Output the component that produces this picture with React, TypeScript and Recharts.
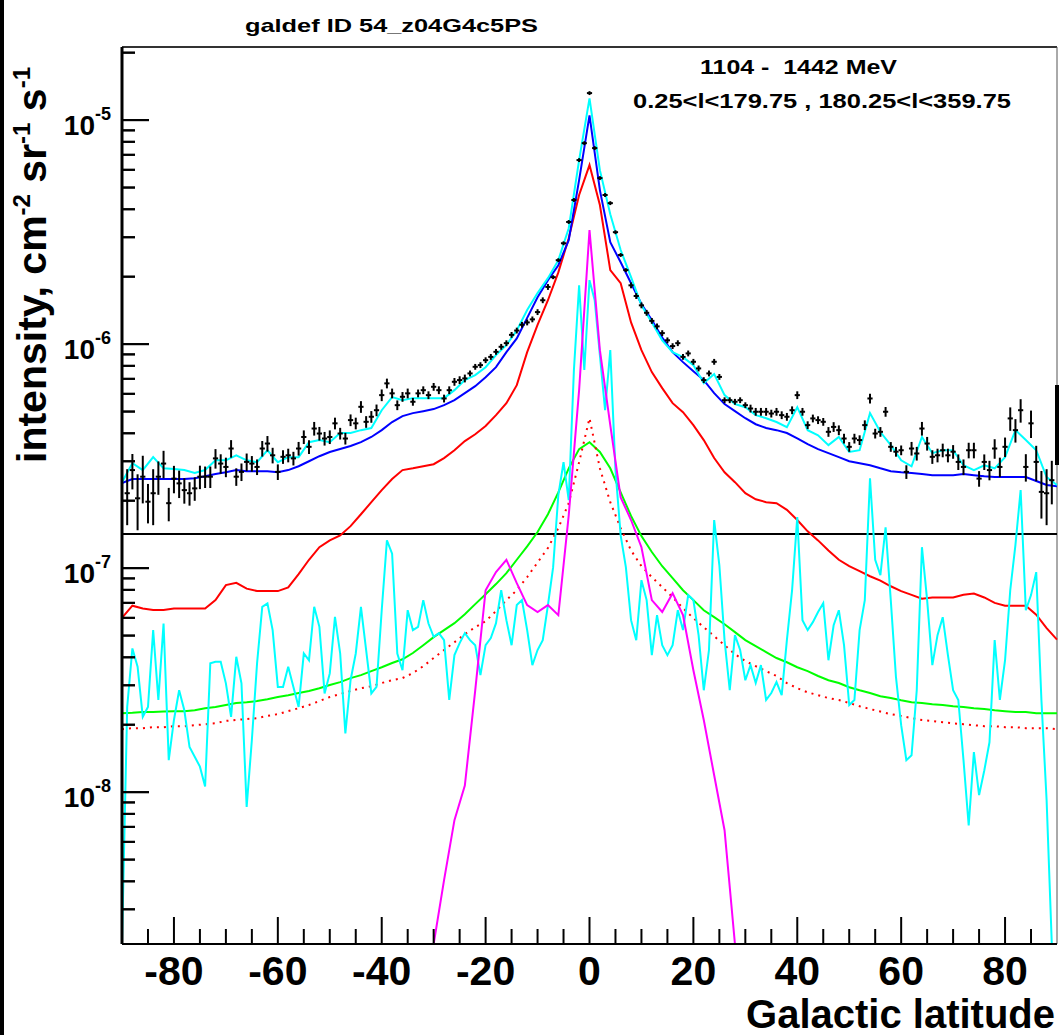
import React from "react";
import { ComposedChart, Line, Scatter, ErrorBar, XAxis, YAxis, ReferenceLine } from "recharts";

const W = 1059;
const H = 1035;
const FONT = "'Liberation Sans', Arial, Helvetica, sans-serif";

// plot frame (set by the chart margins below)
const LEFT = 122;
const RIGHT = 1057;
const TOP = 47;
const BOTTOM = 944;

// intensities are stored in units of 1e-7 cm^-2 sr^-1 s^-1
const UNIT = 1e-7;
const Y_MIN = 2.1e-9;
const Y_MAX = 2.12e-5;
const splitLevel = 1.42e-7;

// bin centres (galactic latitude, deg)
const lat2 = Array.from({ length: 91 }, (_, i) => -90 + 2 * i);
const lat1 = Array.from({ length: 181 }, (_, i) => -90 + i);
const latData = Array.from({ length: 179 }, (_, i) => -89 + i);

// total model (blue)
const blue = [
  2.40, 2.50, 2.50, 2.50, 2.50, 2.50, 2.50, 2.52, 2.57, 2.63,
  2.68, 2.74, 2.71, 2.71, 2.71, 2.68, 2.74, 2.85, 3.00, 3.16,
  3.30, 3.40, 3.51, 3.65, 3.85, 4.13, 4.49, 4.77, 4.92, 5.02,
  5.13, 5.34, 5.62, 6.04, 6.49, 7.12, 7.89, 9.21, 10.6, 13.1,
  16.2, 19.3, 22.5, 29.1, 54.0, 105, 48.7, 28.5, 23.2, 18.7,
  15.1, 12.8, 10.7, 9.21, 8.31, 7.57, 6.91, 6.04, 5.40, 5.02,
  4.67, 4.39, 4.22, 4.13, 4.01, 3.80, 3.58, 3.40, 3.26, 3.13,
  3.00, 2.94, 2.88, 2.79, 2.71, 2.68, 2.66, 2.63, 2.60, 2.60,
  2.60, 2.63, 2.60, 2.57, 2.55, 2.55, 2.55, 2.55, 2.45, 2.35,
  2.32,
];

// pi0 (red solid)
const red = [
  0.60, 0.68, 0.66, 0.65, 0.65, 0.66, 0.66, 0.66, 0.66, 0.72,
  0.84, 0.86, 0.81, 0.79, 0.79, 0.79, 0.82, 0.94, 1.09, 1.24,
  1.33, 1.40, 1.54, 1.74, 1.97, 2.23, 2.50, 2.74, 2.79, 2.85,
  2.91, 3.10, 3.36, 3.69, 3.96, 4.31, 4.82, 5.45, 6.56, 9.21,
  12.2, 15.7, 20.9, 29.7, 46.3, 63.0, 41.8, 21.4, 18.7, 12.5,
  9.40, 7.50, 6.36, 5.45, 4.97, 4.35, 3.73, 3.10, 2.68, 2.42,
  2.16, 2.03, 1.97, 1.95, 1.82, 1.64, 1.46, 1.33, 1.20, 1.09,
  1.02, 0.97, 0.92, 0.88, 0.83, 0.79, 0.76, 0.73, 0.74, 0.74,
  0.74, 0.76, 0.77, 0.74, 0.70, 0.68, 0.68, 0.68, 0.62, 0.54,
  0.48,
];

// inverse Compton (green)
const green = [
  0.225, 0.226, 0.228, 0.228, 0.229, 0.230, 0.230, 0.232, 0.237, 0.240,
  0.245, 0.250, 0.252, 0.255, 0.260, 0.266, 0.271, 0.277, 0.283, 0.291,
  0.301, 0.310, 0.323, 0.333, 0.347, 0.361, 0.377, 0.392, 0.418, 0.453,
  0.492, 0.529, 0.568, 0.623, 0.691, 0.765, 0.849, 0.950, 1.09, 1.25,
  1.45, 1.74, 2.18, 2.79, 3.40, 3.65, 3.30, 2.79, 2.18, 1.71,
  1.39, 1.18, 1.02, 0.902, 0.797, 0.720, 0.649, 0.604, 0.562, 0.518,
  0.477, 0.449, 0.422, 0.397, 0.380, 0.361, 0.347, 0.330, 0.316, 0.307,
  0.294, 0.285, 0.277, 0.268, 0.263, 0.257, 0.252, 0.250, 0.247, 0.245,
  0.242, 0.240, 0.237, 0.235, 0.232, 0.230, 0.228, 0.228, 0.225, 0.225,
  0.225,
];

// bremsstrahlung (red dotted)
const dotted = [
  0.191, 0.193, 0.193, 0.195, 0.195, 0.197, 0.197, 0.199, 0.201, 0.203,
  0.208, 0.210, 0.212, 0.214, 0.219, 0.223, 0.230, 0.237, 0.245, 0.255,
  0.266, 0.274, 0.283, 0.291, 0.297, 0.307, 0.316, 0.323, 0.340, 0.365,
  0.397, 0.431, 0.467, 0.507, 0.545, 0.580, 0.643, 0.720, 0.797, 0.912,
  1.06, 1.23, 1.51, 1.95, 2.97, 4.67, 2.79, 1.97, 1.51, 1.20,
  1.02, 0.912, 0.823, 0.742, 0.663, 0.598, 0.545, 0.497, 0.453, 0.413,
  0.385, 0.365, 0.347, 0.330, 0.307, 0.291, 0.279, 0.271, 0.263, 0.258,
  0.250, 0.242, 0.235, 0.229, 0.223, 0.219, 0.214, 0.210, 0.208, 0.205,
  0.203, 0.201, 0.199, 0.197, 0.197, 0.195, 0.195, 0.193, 0.193, 0.193,
  0.191,
];

// sources (magenta); 0.021 sits on the lower edge of the frame
const magenta = [
  0.021, 0.021, 0.021, 0.021, 0.021, 0.021, 0.021, 0.021, 0.021, 0.021,
  0.021, 0.021, 0.021, 0.021, 0.021, 0.021, 0.021, 0.021, 0.021, 0.021,
  0.021, 0.021, 0.021, 0.021, 0.021, 0.021, 0.021, 0.021, 0.021, 0.021,
  0.021, 0.0405, 0.075, 0.107, 0.285, 0.797, 0.960, 1.09, 0.857, 0.684,
  0.637, 0.684, 0.617, 1.72, 6.23, 32.3, 9.40, 4.35, 2.07, 1.64,
  1.24, 0.720, 0.637, 0.773, 0.617, 0.350, 0.210, 0.119, 0.0676, 0.021,
  0.021, 0.021, 0.021, 0.021, 0.021, 0.021, 0.021, 0.021, 0.021, 0.021,
  0.021, 0.021, 0.021, 0.021, 0.021, 0.021, 0.021, 0.021, 0.021, 0.021,
  0.021, 0.021, 0.021, 0.021, 0.021, 0.021, 0.021, 0.021, 0.021, 0.021,
  0.021,
];

// total incl. sources (cyan, upper)
const cyanTotal = [
  2.42, 2.94, 2.74, 3.13, 2.79, 2.77, 2.74, 2.66, 2.74, 3.03,
  3.03, 3.19, 3.03, 2.97, 3.36, 2.97, 3.13, 3.13, 3.65, 3.73,
  3.65, 4.01, 4.01, 4.13, 4.22, 5.07, 5.80, 5.62, 5.74, 5.74,
  5.74, 5.74, 6.23, 6.91, 7.27, 7.89, 8.93, 9.90, 11.5, 14.2,
  16.9, 19.7, 23.7, 32.9, 66.3, 125, 59.8, 38.0, 26.3, 19.9,
  14.9, 12.5, 10.4, 9.21, 8.75, 8.06, 6.70, 7.35, 5.92, 5.40,
  5.23, 4.82, 4.67, 4.49, 4.26, 5.23, 4.13, 3.92, 3.54, 3.85,
  3.30, 3.36, 4.92, 4.05, 3.54, 3.03, 2.85, 3.85, 3.26, 3.36,
  3.36, 2.88, 2.74, 2.88, 2.79, 3.13, 4.13, 3.73, 3.36, 2.55,
  2.35,
];

// residual (cyan, lower), 1 deg bins
const residual = [
  0.021, 0.240, 0.438, 0.363, 0.217, 0.240, 0.529, 0.258, 0.566, 0.139,
  0.210, 0.285, 0.232, 0.159, 0.144, 0.130, 0.106, 0.376, 0.382, 0.382,
  0.306, 0.217, 0.402, 0.306, 0.086, 0.171, 0.376, 0.672, 0.696, 0.529,
  0.295, 0.295, 0.363, 0.295, 0.240, 0.416, 0.388, 0.672, 0.547, 0.276,
  0.339, 0.606, 0.416, 0.183, 0.316, 0.416, 0.672, 0.431, 0.276, 0.295,
  0.649, 1.33, 1.16, 0.416, 0.350, 0.649, 0.529, 0.547, 0.720, 0.566,
  0.494, 0.513, 0.477, 0.258, 0.409, 0.463, 0.513, 0.477, 0.453, 0.333,
  0.453, 0.487, 0.568, 0.797, 0.586, 0.453, 0.684, 0.720, 0.529, 0.369,
  0.431, 0.477, 0.684, 1.01, 2.12, 2.97, 2.01, 7.66, 18.3, 7.66,
  19.3, 15.7, 8.93, 5.07, 9.40, 2.74, 1.40, 1.01, 0.586, 0.477,
  0.884, 0.720, 0.409, 0.617, 0.453, 0.409, 0.453, 0.649, 0.529, 0.758,
  0.720, 0.502, 0.285, 0.431, 1.64, 1.03, 0.477, 0.285, 0.502, 0.431,
  0.316, 0.369, 0.307, 0.369, 0.258, 0.277, 0.310, 0.271, 0.477, 0.797,
  1.69, 0.586, 0.529, 0.574, 0.637, 0.698, 0.388, 0.556, 0.649, 0.453,
  0.245, 0.258, 0.529, 0.720, 2.52, 1.09, 0.930, 1.52, 0.720, 0.326,
  0.199, 0.139, 0.146, 0.285, 1.24, 0.720, 0.369, 0.502, 0.604, 0.409,
  0.285, 0.258, 0.139, 0.071, 0.151, 0.097, 0.125, 0.167, 0.477, 0.258,
  0.388, 0.797, 1.27, 2.23, 0.649, 0.758, 0.960, 0.258, 0.092, 0.021,
  0.021,
];

// measured intensity, 1 deg bins from -89 to 89
const measured = [
  2.16, 2.74, 2.05, 2.56, 1.98, 2.16, 2.56, 2.93, 1.95, 2.51,
  2.39, 2.23, 2.16, 2.27, 2.56, 2.56, 2.56, 3.09, 2.93, 2.83,
  3.42, 2.56, 2.69, 2.98, 2.93, 2.83, 3.42, 3.60, 3.19, 2.69,
  3.14, 3.19, 3.09, 3.42, 3.85, 3.48, 4.20, 3.99, 3.79, 3.85,
  4.43, 3.99, 3.79, 4.58, 4.43, 5.25, 4.50, 4.74, 5.07, 5.92,
  6.68, 6.03, 5.34, 5.82, 6.03, 5.53, 6.03, 6.23, 5.92, 6.45,
  6.23, 5.72, 6.23, 6.79, 6.91, 7.03, 7.40, 7.92, 8.06, 8.48,
  8.77, 9.24, 9.73, 10.1, 11.0, 11.5, 12.2, 12.5, 12.9, 13.9,
  15.7, 18.0, 19.9, 23.7, 28.2, 35.1, 44.0, 66.3, 78.9, 132,
  75.0, 55.1, 46.3, 42.6, 31.6, 25.0, 21.4, 18.3, 16.4, 14.9,
  13.8, 12.7, 12.0, 11.2, 10.4, 9.80, 10.1, 8.77, 9.09, 8.34,
  7.79, 6.91, 7.40, 8.34, 7.14, 5.62, 5.62, 5.53, 5.62, 5.34,
  5.16, 4.99, 4.99, 4.99, 4.90, 4.99, 4.82, 4.74, 5.07, 5.92,
  4.99, 4.35, 4.66, 4.58, 4.50, 4.06, 4.27, 4.13, 3.79, 3.48,
  3.79, 3.73, 4.35, 5.72, 3.99, 4.06, 4.99, 3.48, 3.31, 3.36,
  2.69, 3.42, 3.25, 4.20, 3.60, 3.14, 3.19, 3.36, 3.19, 3.31,
  2.98, 2.83, 3.36, 3.36, 2.51, 2.98, 2.74, 3.42, 2.83, 3.48,
  4.66, 4.13, 5.07, 2.83, 4.43, 2.98, 2.19, 2.16, 2.47,
];

// relative error of the measured points, percent
const measuredErrPct = [
  28, 18, 28, 24, 20, 28, 17, 14, 17, 14,
  14, 13, 12, 12, 12, 11, 11, 10, 10, 10,
  9, 9, 9, 9, 8, 8, 8, 8, 8, 8,
  7, 7, 7, 7, 7, 7, 7, 7, 7, 7,
  6, 6, 6, 6, 6, 6, 6, 6, 6, 6,
  5, 5, 5, 5, 5, 4, 4, 4, 4, 4,
  4, 4, 4, 4, 4, 4, 3, 3, 3, 3,
  3, 3, 3, 3, 3, 3, 3, 3, 3, 3,
  3, 3, 2, 2, 2, 2, 2, 2, 2, 2,
  2, 2, 2, 2, 2, 2, 2, 3, 3, 3,
  3, 3, 3, 3, 3, 3, 3, 3, 3, 3,
  3, 3, 3, 3, 3, 3, 3, 3, 3, 3,
  4, 4, 4, 4, 4, 4, 4, 4, 4, 4,
  4, 4, 4, 4, 4, 5, 5, 5, 5, 5,
  5, 5, 5, 5, 5, 5, 5, 5, 5, 5,
  7, 7, 7, 7, 7, 7, 7, 7, 7, 7,
  8, 8, 8, 8, 8, 8, 10, 10, 10, 10,
  12, 12, 12, 14, 14, 18, 24, 28, 22,
];

// axis ticks
const xTicks = [
  -85, -80, -75, -70, -65, -60, -55, -50, -45, -40, -35, -30, -25, -20, -15, -10, -5, 0,
  5, 10, 15, 20, 25, 30, 35, 40, 45, 50, 55, 60, 65, 70, 75, 80, 85,
];
const xLabelled = [-80, -60, -40, -20, 0, 20, 40, 60, 80];
const yDecades = [1e-8, 1e-7, 1e-6, 1e-5];
const yExponents = ["-8", "-7", "-6", "-5"];
const yMultipliers = [1, 2, 3, 4, 5, 6, 7, 8, 9];
const yTicks = [1e-9, 1e-8, 1e-7, 1e-6, 1e-5]
  .flatMap((d) => yMultipliers.map((m) => m * d))
  .filter((v) => v >= Y_MIN && v <= Y_MAX);

const smoothRows = lat2.map((b, i) => ({
  b,
  blue: blue[i] * UNIT,
  red: red[i] * UNIT,
  green: green[i] * UNIT,
  dotted: dotted[i] * UNIT,
  magenta: magenta[i] * UNIT,
  cyan: cyanTotal[i] * UNIT,
}));

const residualRows = lat1.map((b, i) => ({ b, resid: residual[i] * UNIT }));

const measuredRows = latData.map((b, i) => ({
  b,
  v: measured[i] * UNIT,
  err: (measured[i] * measuredErrPct[i] * UNIT) / 100,
}));

// y-axis tick marks, anchored on the left frame edge and drawn inward
const yTickRows = yTicks.map((t) => ({ b: -90, t, major: yDecades.includes(t) }));

const XTick = (props: any) => {
  const { x, y, payload } = props;
  const major = xLabelled.includes(payload.value);
  return (
    <g>
      <line x1={x} x2={x} y1={y} y2={y - (major ? 27 : 15)} stroke="#000" strokeWidth={2} />
      {major && (
        <text x={x} y={y + 41} textAnchor="middle" fontSize={41} fontWeight="bold" fontFamily={FONT} fill="#000">
          {payload.value}
        </text>
      )}
    </g>
  );
};

const YTick = (props: any) => {
  const { x, y, payload } = props;
  const i = yDecades.indexOf(payload.value);
  const major = i >= 0;
  return (
    <g>
      <line x1={x} x2={x + (major ? 27 : 13)} y1={y} y2={y} stroke="#000" strokeWidth={2} />
      {major && (
        <text x={x - 11} y={y + 15} textAnchor="end" fontSize={28} fontWeight="bold" fontFamily={FONT} fill="#000">
          10
          <tspan dy={-15} fontSize={18}>
            {yExponents[i]}
          </tspan>
        </text>
      )}
    </g>
  );
};

const TickMark = (props: any) => {
  const { cx, cy, payload } = props;
  const len = payload && payload.major ? 27 : 13;
  return <line x1={cx} x2={cx + len} y1={cy} y2={cy} stroke="#000" strokeWidth={2} />;
};

const Cross = (props: any) => {
  const { cx, cy } = props;
  return <line x1={cx - 2.6} x2={cx + 2.6} y1={cy} y2={cy} stroke="#000" strokeWidth={2} />;
};

export default function App() {
  return (
    <div style={{ position: "absolute", left: 0, top: 0, width: W, height: H, background: "#fff", overflow: "hidden" }}>
      <svg
        width={W}
        height={H}
        style={{ position: "absolute", left: 0, top: 0 }}
        fontFamily={FONT}
        fontWeight="bold"
        fill="#000"
      >
        <line x1={LEFT} x2={RIGHT} y1={TOP} y2={TOP} stroke="#333" strokeWidth={2} />
        <line x1={RIGHT} x2={RIGHT} y1={TOP} y2={BOTTOM} stroke="#555" strokeWidth={1} />
        <rect x={0} y={0} width={4} height={H} fill="#000" />
        <rect x={1055} y={385} width={4} height={80} fill="#000" />
        <text x={245} y={32} fontSize={19} textLength={293} lengthAdjust="spacingAndGlyphs">
          galdef ID 54_z04G4c5PS
        </text>
        <text x={700} y={74} fontSize={21} textLength={197} lengthAdjust="spacingAndGlyphs" style={{ whiteSpace: "pre" }}>
          {"1104 -  1442 MeV"}
        </text>
        <text x={633} y={108} fontSize={21} textLength={378} lengthAdjust="spacingAndGlyphs">
          {"0.25<l<179.75 , 180.25<l<359.75"}
        </text>
        <text x={1055} y={1028} fontSize={40} textAnchor="end">
          Galactic latitude
        </text>
        <text transform="translate(46,463) rotate(-90)" fontSize={41}>
          {"intensity, cm"}
          <tspan dy={-16} fontSize={24}>-2</tspan>
          <tspan dy={16}>{" sr"}</tspan>
          <tspan dy={-16} fontSize={24}>-1</tspan>
          <tspan dy={16}>{" s"}</tspan>
          <tspan dy={-16} fontSize={24}>-1</tspan>
        </text>
      </svg>

      <div style={{ position: "absolute", left: 0, top: 0 }}>
        <ComposedChart width={W} height={H} margin={{ top: 47, right: 2, bottom: 41, left: 22 }}>
          <XAxis
            dataKey="b"
            type="number"
            domain={[-90, 90]}
            ticks={xTicks}
            interval={0}
            tick={XTick}
            tickSize={0}
            tickMargin={0}
            height={50}
            axisLine={{ stroke: "#000", strokeWidth: 2 }}
          />
          <YAxis
            type="number"
            scale="log"
            domain={[Y_MIN, Y_MAX]}
            ticks={yTicks}
            interval={0}
            tick={YTick}
            tickLine={false}
            tickSize={0}
            tickMargin={0}
            width={100}
            axisLine={{ stroke: "#000", strokeWidth: 3 }}
          />
          <ReferenceLine y={splitLevel} stroke="#000" strokeWidth={2} />

          <Line data={smoothRows} dataKey="green" type="linear" stroke="#00ff00" strokeWidth={2} dot={false} isAnimationActive={false} />
          <Line data={smoothRows} dataKey="dotted" type="linear" stroke="#ff0000" strokeWidth={2} strokeDasharray="2 5" dot={false} isAnimationActive={false} />
          <Line data={smoothRows} dataKey="red" type="linear" stroke="#ff0000" strokeWidth={2} dot={false} isAnimationActive={false} />
          <Line data={residualRows} dataKey="resid" type="linear" stroke="#00ffff" strokeWidth={2} dot={false} isAnimationActive={false} />
          <Line data={smoothRows} dataKey="magenta" type="linear" stroke="#ff00ff" strokeWidth={2} dot={false} isAnimationActive={false} />
          <Line data={smoothRows} dataKey="blue" type="linear" stroke="#0000ff" strokeWidth={2} dot={false} isAnimationActive={false} />
          <Line data={smoothRows} dataKey="cyan" type="linear" stroke="#00ffff" strokeWidth={2} dot={false} isAnimationActive={false} />
          <Scatter data={measuredRows} dataKey="v" shape={Cross} isAnimationActive={false}>
            <ErrorBar dataKey="err" direction="y" width={0} stroke="#000" strokeWidth={2} />
          </Scatter>
          <Scatter data={yTickRows} dataKey="t" shape={TickMark} isAnimationActive={false} />
        </ComposedChart>
      </div>
    </div>
  );
}
